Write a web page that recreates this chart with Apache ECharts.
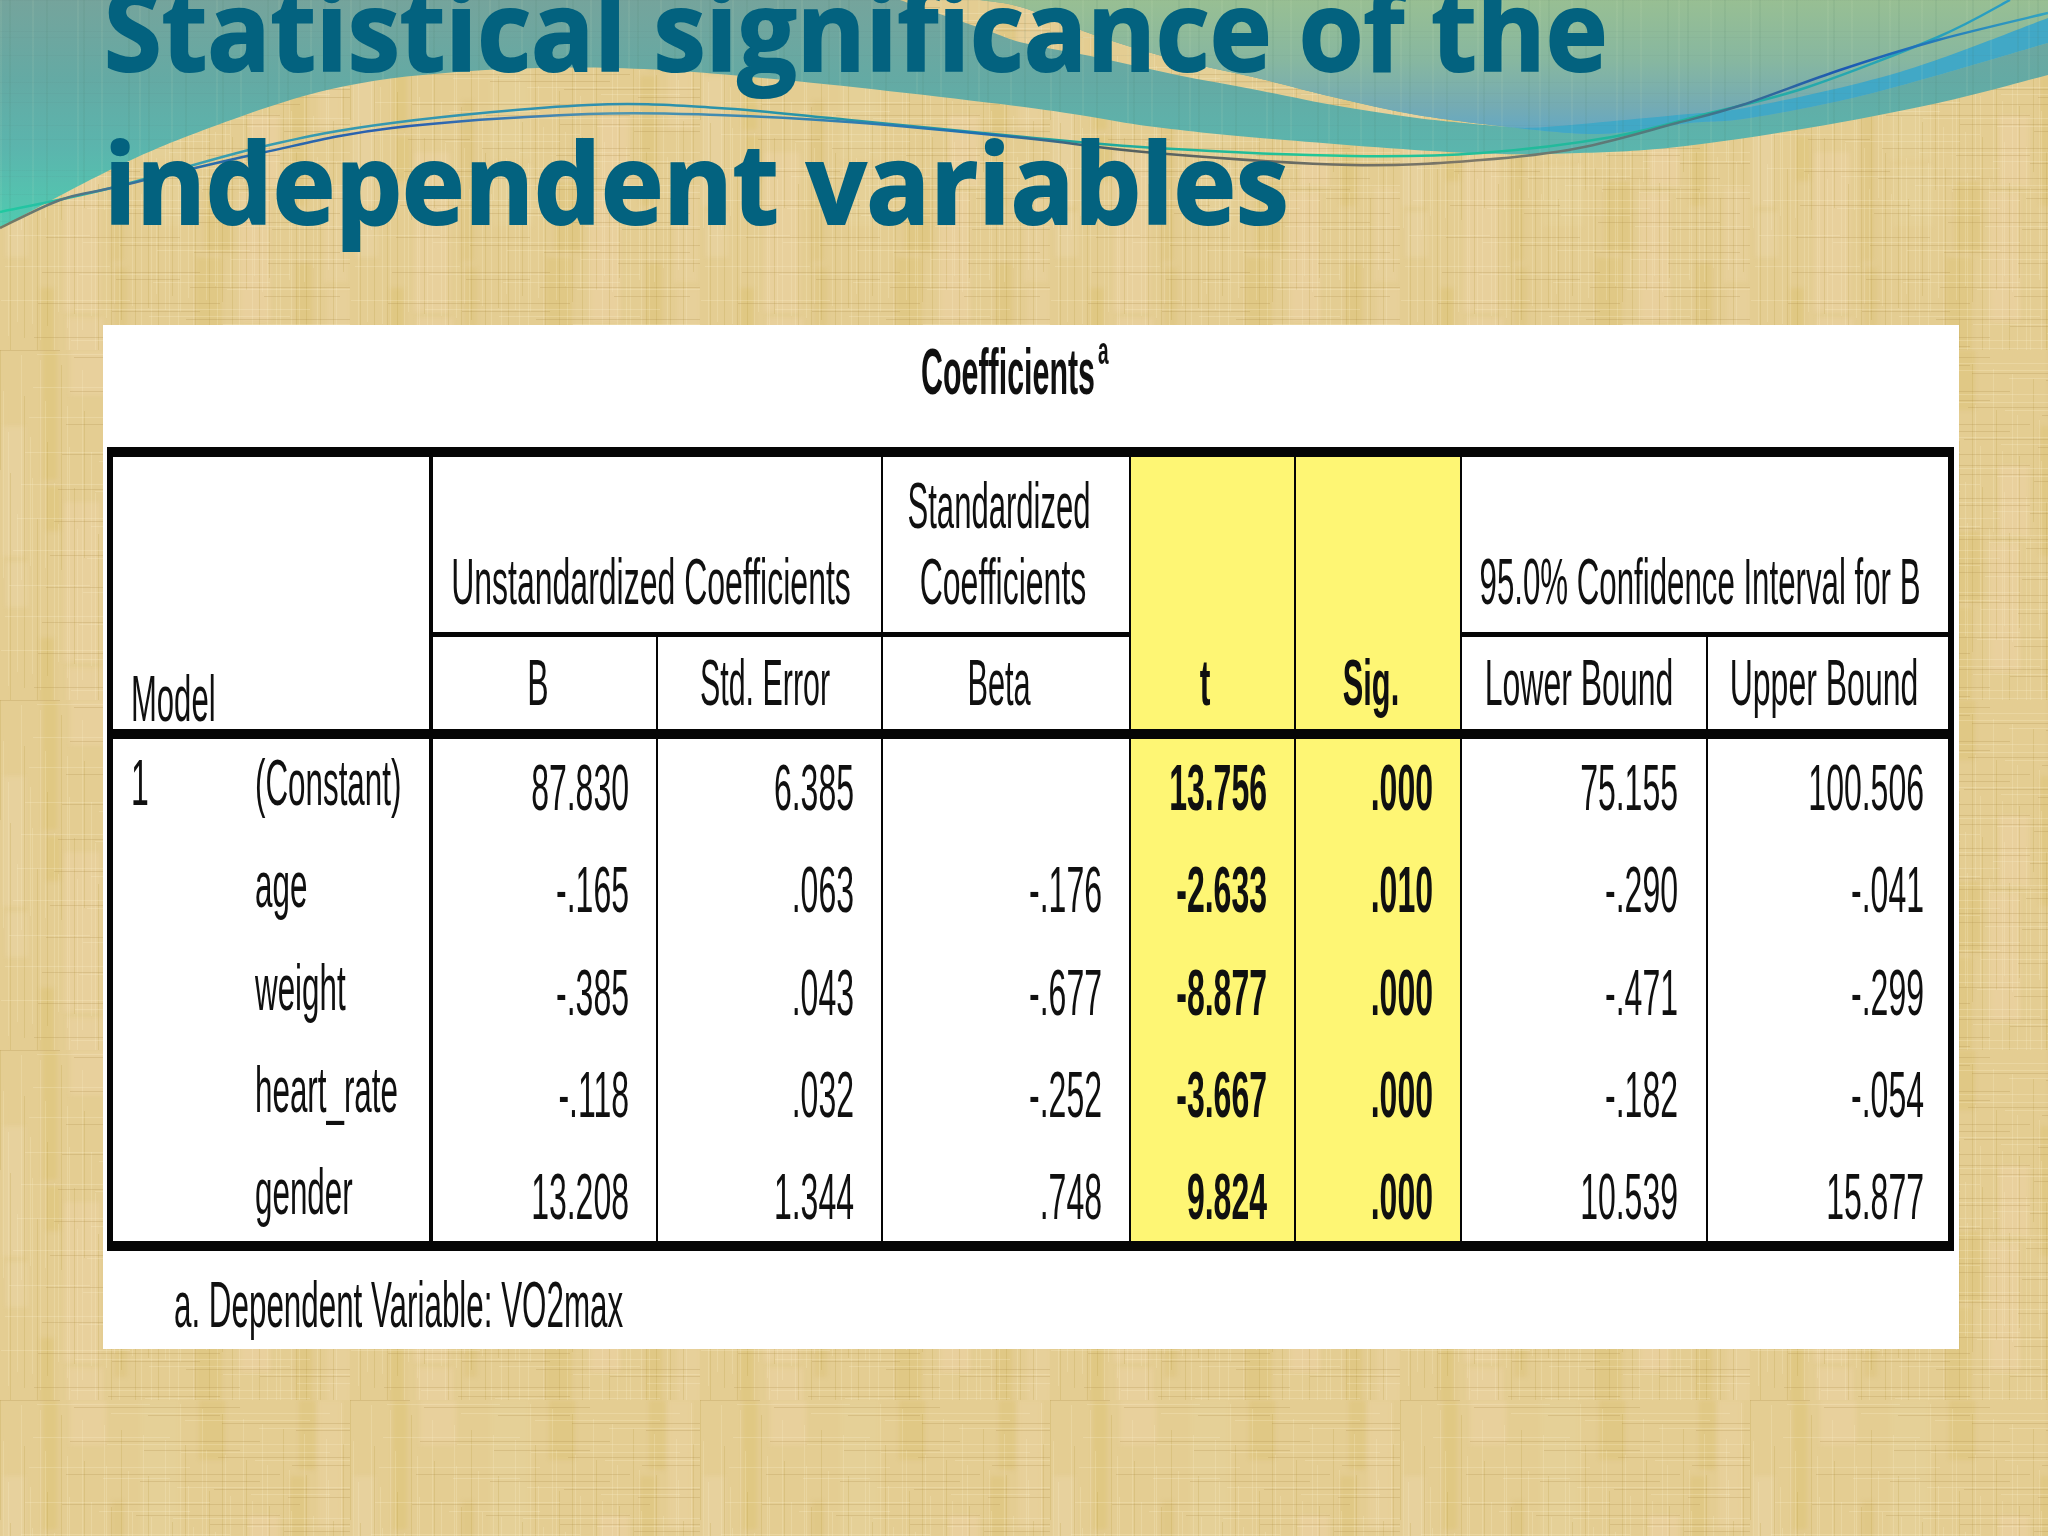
<!DOCTYPE html>
<html>
<head>
    <meta charset="utf-8">
    <title>Coefficients</title>
    <style>html,body{margin:0;padding:0}#main{width:2048px;height:1536px}</style>
    <script src="https://cdn.jsdelivr.net/npm/echarts@6/dist/echarts.min.js"></script>
</head>
<body>
<div id="main"></div>
<script type="text/javascript">
// table values
var predictors = ['(Constant)', 'age', 'weight', 'heart_rate', 'gender'];
var bValues = [87.830, -.165, -.385, -.118, 13.208];
var stdError = [6.385, .063, .043, .032, 1.344];
var betaValues = [null, -.176, -.677, -.252, .748];
var tValues = [13.756, -2.633, -8.877, -3.667, 9.824];
var sigValues = [.000, .010, .000, .000, .000];
var lowerBound = [75.155, -.290, -.471, -.182, 10.539];
var upperBound = [100.506, -.041, -.299, -.054, 15.877];

// layout, in reference pixels
var FONT = '"Liberation Sans", Arial, sans-serif';
var numRight = [629, 854, 1102, 1267, 1433, 1678, 1924];
var rowBase = [811, 913, 1016, 1118, 1220];
var fills = [
    [103, 325, 1959, 1349, '#ffffff'],
    [1130, 457, 1461, 1241, '#fef674']
];
var rules = [
    [107, 447, 1954, 457], [107, 729, 1954, 739], [107, 1241, 1954, 1251],
    [107, 447, 113, 1251], [1948, 447, 1954, 1251],
    [429, 447, 433, 1251], [431, 632, 1130, 637], [1461, 632, 1950, 637],
    [656, 634, 658, 1241], [881, 457, 883, 1241], [1129, 457, 1131, 1241],
    [1294, 457, 1296, 1241], [1460, 457, 1462, 1241], [1706, 634, 1708, 1241]
];

function fmt(v) {
    return v.toFixed(3).replace(/^(-?)0\./, '$1.');
}

var labels = [
    {x: 1008, y: 395, t: 'Coefficients', a: 'center', b: 1, sx: 0.475},
    {x: 1098, y: 365, t: 'a', a: 'left', s: 38, b: 1, sx: 0.5},
    {x: 131, y: 722, t: 'Model', a: 'left', sx: 0.485},
    {x: 651, y: 605, t: 'Unstandardized Coefficients', a: 'center'},
    {x: 999, y: 529, t: 'Standardized', a: 'center', sx: 0.485},
    {x: 1003, y: 605, t: 'Coefficients', a: 'center'},
    {x: 1700, y: 605, t: '95.0% Confidence Interval for B', a: 'center', sx: 0.488},
    {x: 538, y: 706, t: 'B', a: 'center'},
    {x: 765, y: 706, t: 'Std. Error', a: 'center', sx: 0.475},
    {x: 999, y: 706, t: 'Beta', a: 'center', sx: 0.48},
    {x: 1205, y: 706, t: 't', a: 'center', b: 1},
    {x: 1371, y: 706, t: 'Sig.', a: 'center', b: 1, sx: 0.48},
    {x: 1579, y: 706, t: 'Lower Bound', a: 'center'},
    {x: 1824, y: 706, t: 'Upper Bound', a: 'center'},
    {x: 131, y: 806, t: '1', a: 'left'},
    {x: 174, y: 1328, t: 'a. Dependent Variable: VO2max', a: 'left', sx: 0.49}
];
predictors.forEach(function (p, i) {
    labels.push({x: 255, y: rowBase[i] - 5, t: p, a: 'left', sx: 0.49});
});
[bValues, stdError, betaValues, tValues, sigValues, lowerBound, upperBound].forEach(function (col, c) {
    col.forEach(function (v, i) {
        if (v !== null) {
            labels.push({x: numRight[c], y: rowBase[i], t: fmt(v), a: 'right', b: c === 3 || c === 4});
        }
    });
});

// paper texture tile, drawn once
function makeTile() {
    var cv = document.createElement('canvas');
    cv.width = 350; cv.height = 350;
    var g = cv.getContext('2d');
    g.fillStyle = '#e4cd92';
    g.fillRect(0, 0, 350, 350);
    g.filter = 'blur(2px)';
    var bands = [[0, 22, 'rgba(236,214,170,.45)'], [40, 14, 'rgba(214,188,96,.3)'], [64, 36, 'rgba(238,212,168,.45)'],
        [112, 12, 'rgba(214,190,110,.3)'], [140, 40, 'rgba(232,216,160,.35)'], [196, 26, 'rgba(216,190,104,.3)'],
        [240, 30, 'rgba(240,212,170,.45)'], [290, 16, 'rgba(214,188,104,.3)'], [318, 24, 'rgba(238,216,170,.35)']];
    var heights = [70, 130, 45, 95, 160, 60, 110];
    bands.forEach(function (b, n) {
        var y = 0, k = n;
        while (y < 350) {
            var h = heights[k % 7];
            if (k % 3 !== 0) {
                g.fillStyle = b[2];
                g.fillRect(b[0] + (k % 4) * 3, y, b[1], h);
            }
            y += h + 6; k++;
        }
    });
    g.filter = 'blur(0.6px)';
    var gaps = [3, 5, 2, 7, 4, 3, 6, 2, 5], i = 0, p = 0;
    while (p < 350) {
        g.fillStyle = i % 3 ? 'rgba(252,238,200,.24)' : 'rgba(190,160,70,.24)';
        g.fillRect(p, (i * 41) % 200, 1, 120 + (i * 67) % 230);
        p += gaps[i % 9]; i++;
    }
    i = 0; p = 0;
    while (p < 350) {
        g.fillStyle = i % 2 ? 'rgba(250,238,205,.26)' : 'rgba(170,140,70,.24)';
        g.fillRect(((i * 37) % 300), p, 60 + (i * 53) % 200, 1);
        p += gaps[(i + 4) % 9]; i++;
    }
    return cv;
}

function makeWeave() {
    var cv = document.createElement('canvas');
    cv.width = 350; cv.height = 240;
    var g = cv.getContext('2d');
    var gaps = [9, 23, 14, 31, 6, 18, 27, 11], i = 0, p = 0;
    while (p < 350) {
        g.fillStyle = i % 2 ? 'rgba(70,110,90,.08)' : 'rgba(220,235,200,.07)';
        g.fillRect(p, 0, 2, 240);
        p += gaps[i % 8]; i++;
    }
    i = 0; p = 0;
    while (p < 240) {
        g.fillStyle = 'rgba(70,100,90,.05)';
        g.fillRect(0, p, 350, 1);
        p += gaps[(i + 3) % 8]; i++;
    }
    return cv;
}

// open curve through the points
function curve(pts) {
    var d = '';
    for (var i = 0; i < pts.length - 1; i++) {
        var p0 = pts[i - 1] || pts[i], p1 = pts[i], p2 = pts[i + 1], p3 = pts[i + 2] || p2;
        d += 'C' + (p1[0] + (p2[0] - p0[0]) / 6) + ' ' + (p1[1] + (p2[1] - p0[1]) / 6) + ' ' +
            (p2[0] - (p3[0] - p1[0]) / 6) + ' ' + (p2[1] - (p3[1] - p1[1]) / 6) + ' ' + p2[0] + ' ' + p2[1];
    }
    return d;
}
function start(p) { return 'M' + p[0] + ' ' + p[1]; }

var waveEdge = [[0, 228], [104, 173], [196, 133], [327, 90], [457, 72], [614, 68], [784, 80], [1024, 107],
    [1155, 127], [1285, 140], [1468, 153], [1579, 153], [1677, 147], [1808, 128], [1938, 103], [2048, 75]];
var wedgeTop = [[980, 0], [1024, 8], [1100, 37], [1177, 60], [1257, 78], [1333, 97], [1417, 115], [1507, 127]];
var wedgeLow = [[900, 0], [986, 30], [1024, 43], [1100, 58], [1177, 75], [1257, 90], [1333, 105], [1417, 118], [1507, 127]];
var blueTop = [[1507, 127], [1546, 127], [1677, 115], [1750, 107], [1900, 72], [2048, 18]];
var blueLow = [[1507, 127], [1599, 134], [1690, 123], [1750, 118], [1873, 93], [2048, 43]];
var lineA = [[0, 212], [111, 188], [261, 147], [392, 123], [588, 105], [718, 108], [849, 120], [1024, 137],
    [1155, 148], [1351, 156], [1481, 153], [1612, 137], [1710, 113], [1808, 87], [1938, 37], [2010, 0]];
var lineB = [[0, 228], [60, 200], [111, 188], [261, 153], [392, 128], [588, 114], [718, 115], [849, 122], [1024, 138],
    [1155, 153], [1351, 165], [1481, 160], [1579, 148], [1677, 123], [1742, 105], [1840, 70], [1938, 40], [2048, 13]];

var tile = makeTile();
var weave = makeWeave();
var paper = {image: tile, repeat: 'repeat'};

var wavePath = start([0, 0]) + 'L2048 0L2048 75' + curve(waveEdge.slice().reverse()) + 'Z';
var wedgePath = start(wedgeTop[0]) + curve(wedgeTop) + curve(wedgeLow.slice().reverse()) + 'Z';
var upperPath = start(wedgeTop[0]) + curve(wedgeTop) + curve(blueLow) + 'L2048 0Z';
var bluePath = start(blueTop[0]) + curve(blueTop) + 'L2048 43' + curve(blueLow.slice().reverse()) + 'Z';

function grad(x0, y0, x1, y1, stops) {
    return new echarts.graphic.LinearGradient(x0, y0, x1, y1, stops.map(function (s) {
        return {offset: s[0], color: s[1]};
    }));
}

function titleLine(text, baseline, sx) {
    return {
        type: 'text', x: 104, y: baseline - 0.3 * 112, scaleX: sx,
        style: {text: text, font: 'bold 112px "Open Sans", sans-serif', fill: '#03627f',
            stroke: '#03627f', lineWidth: 2,
            textVerticalAlign: 'middle', verticalAlign: 'middle'}
    };
}

var backdrop = [
    {type: 'rect', shape: {x: 0, y: 0, width: 2048, height: 1536}, style: {fill: paper}},
    {type: 'path', shape: {pathData: wavePath}, style: {fill: grad(0, 0, 0, 1, [[0, '#75a49c'], [0.35, '#64aaa4'], [0.65, '#5bb5ad'], [1, '#50cbb0']])}},
    {type: 'path', shape: {pathData: wedgePath}, style: {fill: paper}},
    {type: 'path', shape: {pathData: upperPath}, style: {fill: grad(0, 0, 0, 1, [[0, '#98bf93'], [0.45, '#87b7a0'], [0.8, '#74abb4'], [1, '#62a8c6']])}},
    {type: 'path', shape: {pathData: bluePath}, style: {fill: '#41a8c6'}},
    {type: 'path', shape: {pathData: wavePath}, style: {fill: {image: weave, repeat: 'repeat'}}},
    {type: 'path', shape: {pathData: start(lineA[0]) + curve(lineA)}, style: {fill: 'none', lineWidth: 2.5,
        stroke: grad(0, 0, 1, 0, [[0, '#1fcaa0'], [0.1, '#3a9fb0'], [0.3, '#2f8fae'], [0.5, '#1f9aa0'], [0.66, '#22c896'], [0.85, '#22b0a0'], [1, '#2a9cc4']])}},
    {type: 'path', shape: {pathData: start(lineB[0]) + curve(lineB)}, style: {fill: 'none', lineWidth: 2.5,
        stroke: grad(0, 0, 1, 0, [[0, '#7b7a60'], [0.08, '#2b6fa8'], [0.2, '#2a5fb0'], [0.3, '#4f96b0'], [0.48, '#1f6fb0'], [0.55, '#55605f'], [0.72, '#7e7868'], [0.82, '#4a7a80'], [0.9, '#1a58b4'], [1, '#32a6c2']])}},
    titleLine('Statistical significance of the', 73, 0.935),
    titleLine('independent variables', 226, 0.944)
];

function rectSeries(list, color) {
    return {
        type: 'custom',
        silent: true,
        clip: false,
        data: list.map(function (r) { return r.slice(0, 4); }),
        renderItem: function (params, api) {
            var a = api.coord([api.value(0), api.value(1)]);
            var b = api.coord([api.value(2), api.value(3)]);
            return {
                type: 'rect',
                shape: {x: a[0], y: a[1], width: b[0] - a[0], height: b[1] - a[1]},
                style: {fill: color || list[params.dataIndex][4]}
            };
        }
    };
}

var myChart = echarts.init(document.getElementById('main'), null, {renderer: 'canvas'});
var option = {
    animation: false,
    grid: {left: 103, top: 325, width: 1856, height: 1024, containLabel: false},
    xAxis: {type: 'value', min: 103, max: 1959, show: false},
    yAxis: {type: 'value', min: 325, max: 1349, inverse: true, show: false},
    series: [
        {
            // slide background and heading
            type: 'custom',
            silent: true,
            clip: false,
            data: [[0, 0]],
            renderItem: function () {
                return {type: 'group', children: backdrop};
            }
        },
        rectSeries(fills),
        rectSeries(rules, '#050505'),
        {
            type: 'custom',
            silent: true,
            clip: false,
            data: labels.map(function (l) { return [l.x, l.y]; }),
            renderItem: function (params, api) {
                var l = labels[params.dataIndex];
                var p = api.coord([api.value(0), api.value(1)]);
                var size = l.s || 64;
                return {
                    type: 'text',
                    x: p[0],
                    y: p[1] - 0.29 * size,
                    scaleX: l.sx || 0.5,
                    style: {
                        text: l.t,
                        font: (l.b ? 'bold ' : '') + size + 'px ' + FONT,
                        fill: '#101010',
                        textAlign: l.a,
                        align: l.a,
                        textVerticalAlign: 'middle',
                        verticalAlign: 'middle'
                    }
                };
            }
        }
    ]
};
myChart.setOption(option);
</script>
</body>
</html>
